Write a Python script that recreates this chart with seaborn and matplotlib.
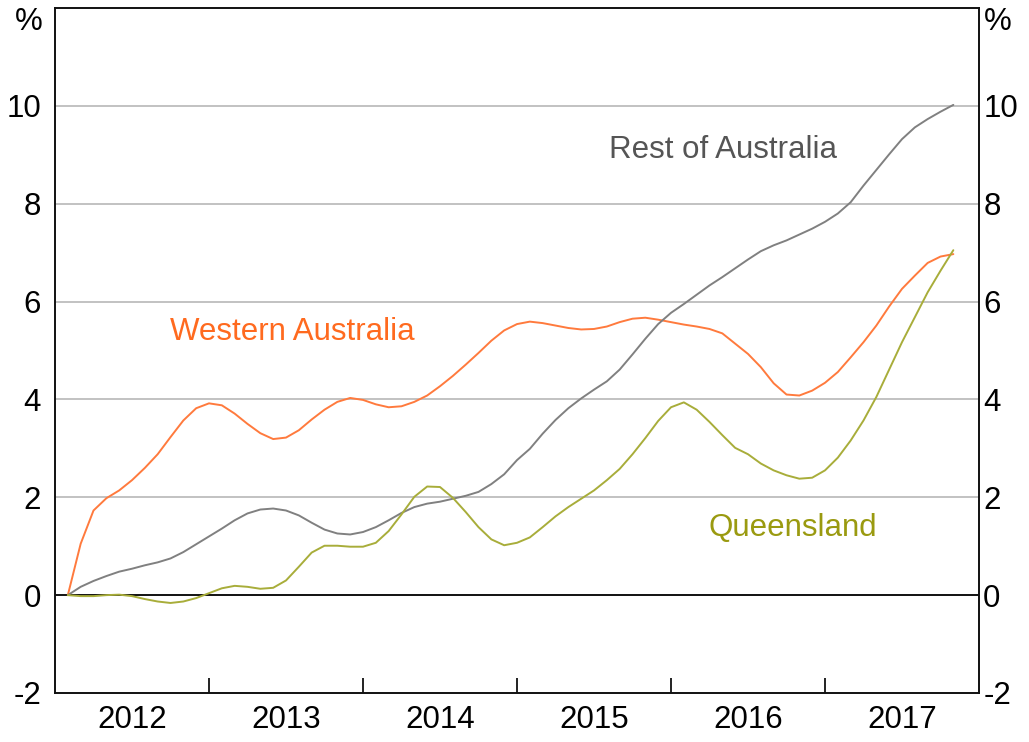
import numpy as np
import pandas as pd
import matplotlib
matplotlib.use("Agg")
import matplotlib.pyplot as plt
import seaborn as sns

# ---- data (cumulative % change, monthly, Feb 2012 - Nov 2017) ----
months = pd.date_range("2012-02-01", periods=70, freq="MS")

western_australia = [
    0.00, 1.05, 1.73, 1.98, 2.14, 2.35, 2.60, 2.88, 3.23, 3.57, 3.82, 3.92,
    3.88, 3.71, 3.50, 3.31, 3.19, 3.22, 3.37, 3.59, 3.79, 3.95, 4.03, 3.99,
    3.90, 3.84, 3.86, 3.95, 4.08, 4.27, 4.48, 4.71, 4.95, 5.20, 5.41, 5.54,
    5.59, 5.56, 5.51, 5.46, 5.43, 5.44, 5.49, 5.58, 5.65, 5.67, 5.63, 5.58,
    5.53, 5.49, 5.44, 5.35, 5.14, 4.93, 4.66, 4.33, 4.10, 4.08, 4.18, 4.34,
    4.56, 4.86, 5.17, 5.51, 5.90, 6.26, 6.53, 6.79, 6.92, 6.97,
]
rest_of_australia = [
    0.00, 0.17, 0.29, 0.39, 0.48, 0.54, 0.61, 0.67, 0.75, 0.88, 1.04, 1.20,
    1.36, 1.53, 1.67, 1.75, 1.77, 1.73, 1.63, 1.48, 1.34, 1.26, 1.24, 1.29,
    1.39, 1.53, 1.68, 1.80, 1.87, 1.91, 1.97, 2.03, 2.11, 2.27, 2.47, 2.76,
    2.99, 3.30, 3.58, 3.82, 4.02, 4.20, 4.37, 4.61, 4.92, 5.24, 5.54, 5.77,
    5.95, 6.14, 6.33, 6.50, 6.68, 6.86, 7.03, 7.15, 7.25, 7.37, 7.49, 7.63,
    7.80, 8.03, 8.37, 8.69, 9.01, 9.32, 9.56, 9.73, 9.88, 10.02,
]
queensland = [
    0.00, -0.02, -0.02, 0.00, 0.01, -0.02, -0.08, -0.13, -0.16, -0.13, -0.06, 0.04,
    0.14, 0.19, 0.17, 0.13, 0.15, 0.30, 0.58, 0.87, 1.01, 1.01, 0.99, 0.99,
    1.07, 1.31, 1.65, 2.01, 2.22, 2.21, 1.99, 1.70, 1.39, 1.14, 1.02, 1.07,
    1.18, 1.39, 1.61, 1.80, 1.97, 2.14, 2.35, 2.58, 2.88, 3.21, 3.56, 3.84,
    3.94, 3.79, 3.54, 3.27, 3.01, 2.88, 2.69, 2.55, 2.45, 2.38, 2.40, 2.55,
    2.81, 3.16, 3.57, 4.05, 4.61, 5.17, 5.68, 6.19, 6.63, 7.05,
]

series_names = ["Western Australia", "Rest of Australia", "Queensland"]
series_colors = {"Western Australia": "#FF7A3D",
                 "Rest of Australia": "#808080",
                 "Queensland": "#A8AD3A"}
label_colors = {"Western Australia": "#FF6A1F",
                "Rest of Australia": "#555555",
                "Queensland": "#9A9A10"}

y_ticks = [-2, 0, 2, 4, 6, 8, 10]
year_labels = ["2012", "2013", "2014", "2015", "2016", "2017"]

# ---- build long-form frame ----
t = months.year + (months.month - 1) / 12.0
df = pd.concat([
    pd.DataFrame({"t": t, "value": western_australia, "series": "Western Australia"}),
    pd.DataFrame({"t": t, "value": rest_of_australia, "series": "Rest of Australia"}),
    pd.DataFrame({"t": t, "value": queensland, "series": "Queensland"}),
])

sns.set_style("white")
plt.rcParams["font.family"] = ["Liberation Sans", "DejaVu Sans"]
FS = 22.5

fig = plt.figure(figsize=(10.29, 7.42), dpi=100)
ax = fig.add_axes([55 / 1029, 49 / 742, 924 / 1029, 685 / 742])

ax.set_xlim(2012, 2018)
ax.set_ylim(-2, 12)

# grid lines
for yv in y_ticks[2:]:
    ax.axhline(yv, color="#BDBDBD", lw=1.3, zorder=1)
ax.axhline(0, color="#111111", lw=1.4, zorder=2)

sns.lineplot(data=df, x="t", y="value", hue="series", hue_order=series_names,
             palette=series_colors, lw=1.4, ax=ax, legend=False, zorder=3)

# series labels
ax.text(2016.34, 9.1, "Rest of Australia", color=label_colors["Rest of Australia"],
        fontsize=FS, ha="center", va="center")
ax.text(2013.54, 5.38, "Western Australia", color=label_colors["Western Australia"],
        fontsize=FS, ha="center", va="center")
ax.text(2016.79, 1.38, "Queensland", color=label_colors["Queensland"],
        fontsize=FS, ha="center", va="center")

# axes frame
for s in ax.spines.values():
    s.set_visible(True)
    s.set_color("#111111")
    s.set_linewidth(1.4)

# left y ticks
ax.set_yticks(y_ticks)
ax.set_yticklabels([str(v) for v in y_ticks], fontsize=FS, color="black")
ax.tick_params(axis="y", which="both", length=0, left=False, right=False,
               labelleft=True, labelright=False, pad=10)

# right y ticks (mirror)
ax2 = ax.twinx()
ax2.set_ylim(ax.get_ylim())
ax2.set_yticks(y_ticks)
ax2.set_yticklabels([str(v) for v in y_ticks], fontsize=FS, color="black")
ax2.tick_params(axis="y", length=0, pad=3)
for s in ax2.spines.values():
    s.set_visible(False)

# x: major ticks at year boundaries (inward), labels at mid-year
ax.set_xticks([2013, 2014, 2015, 2016, 2017])
ax.set_xticklabels([])
ax.tick_params(axis="x", which="major", direction="in", length=11, width=1.3,
               color="#111111", bottom=True)
ax.set_xticks([y + 0.5 for y in range(2012, 2018)], minor=True)
ax.set_xticklabels(year_labels, minor=True, fontsize=FS, color="black")
ax.tick_params(axis="x", which="minor", length=0, pad=9)
ax.set_xlabel("")
ax.set_ylabel("")

fig.text(29 / 1029, 1 - 22 / 742, "%", fontsize=FS, ha="center", va="center", color="black")
fig.text(998 / 1029, 1 - 22 / 742, "%", fontsize=FS, ha="center", va="center", color="black")

fig.savefig("out.png", dpi=100, facecolor="white")
